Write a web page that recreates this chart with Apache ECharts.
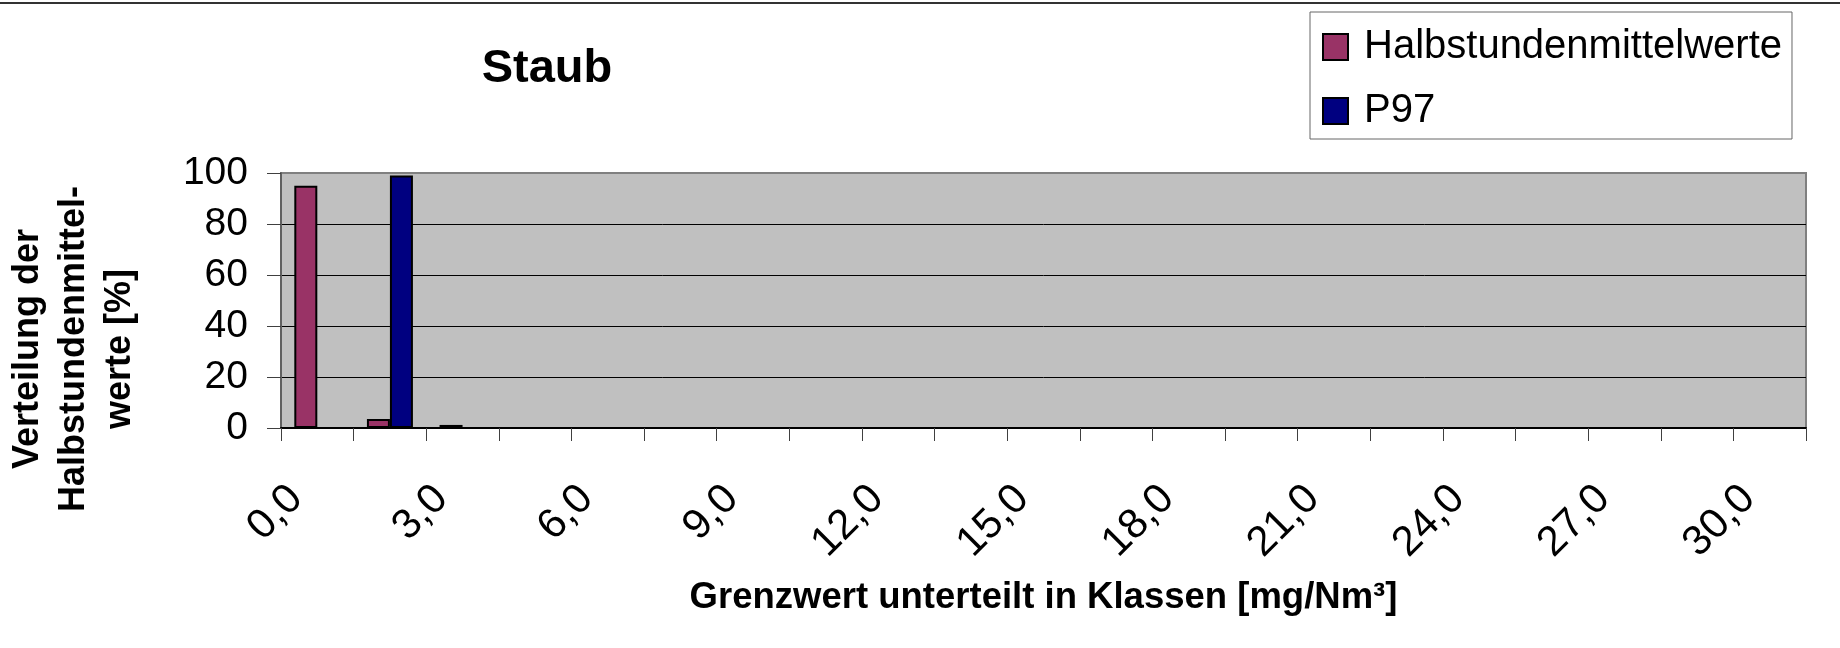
<!DOCTYPE html>
<html>
<head>
<meta charset="utf-8">
<script src="https://cdn.jsdelivr.net/npm/echarts@6/dist/echarts.min.js"></script>
<style>
  html, body { margin: 0; padding: 0; background: #fff; }
  #chart { width: 1840px; height: 648px; }
</style>
</head>
<body>
<div id="chart"></div>
<script>
// Klassen in 1,5er Schritten (0,0 ... 30,0)
const classes = ['0,0', '1,5', '3,0', '4,5', '6,0', '7,5', '9,0', '10,5', '12,0', '13,5', '15,0',
  '16,5', '18,0', '19,5', '21,0', '22,5', '24,0', '25,5', '27,0', '28,5', '30,0']
// Verteilung in %
const halbstunden = [95, 3.5, 1.2, 0, 0, 0, 0, 0, 0, 0, 0, 0, 0, 0, 0, 0, 0, 0, 0, 0, 0]
const p97 = [0, 99, 0, 0, 0, 0, 0, 0, 0, 0, 0, 0, 0, 0, 0, 0, 0, 0, 0, 0, 0]

const font = 'Liberation Sans, Arial, Helvetica, sans-serif'
const chart = echarts.init(document.getElementById('chart'))

chart.setOption({
  backgroundColor: '#fff',
  animation: false,
  title: {
    text: 'Staub',
    left: 542,
    top: 38,
    textAlign: 'center',
    textStyle: { fontFamily: font, fontSize: 47, fontWeight: 'bold', color: '#000', lineHeight: 52 }
  },
  legend: {
    orient: 'vertical',
    left: 1310,
    top: 12,
    padding: [13, 10, 6, 12],
    itemGap: 20,
    itemWidth: 25,
    itemHeight: 26,
    icon: 'rect',
    borderColor: '#666',
    borderWidth: 1,
    backgroundColor: '#fff',
    itemStyle: { borderColor: '#000', borderWidth: 2 },
    textStyle: { fontFamily: font, fontSize: 40, color: '#000', lineHeight: 44, padding: [0, 0, 0, 11] },
    data: ['Halbstundenmittelwerte', 'P97']
  },
  grid: {
    left: 281,
    right: 34,
    top: 173,
    bottom: 220,
    show: true,
    backgroundColor: '#c0c0c0',
    borderColor: '#808080',
    borderWidth: 2
  },
  graphic: [
    {
      type: 'line',
      shape: { x1: 0, y1: 3, x2: 1840, y2: 3 },
      style: { stroke: '#333', lineWidth: 2 }
    },
    {
      // Achsentitel der y-Achse (dreizeilig, zentriert)
      type: 'text',
      x: 74,
      y: 349,
      rotation: Math.PI / 2,
      style: {
        text: 'Verteilung der\nHalbstundenmittel-\nwerte [%]',
        fontFamily: font,
        fontSize: 36,
        fontWeight: 'bold',
        lineHeight: 46,
        fill: '#000',
        align: 'center',
        verticalAlign: 'middle'
      }
    }
  ],
  xAxis: {
    type: 'category',
    data: classes,
    boundaryGap: true,
    name: 'Grenzwert unterteilt in Klassen [mg/Nm³]',
    nameLocation: 'middle',
    nameGap: 151,
    nameTextStyle: { fontFamily: font, fontSize: 36.5, fontWeight: 'bold', color: '#000' },
    axisLine: { lineStyle: { color: '#000', width: 2 } },
    axisTick: { show: true, interval: 0, length: 13, lineStyle: { color: '#404040', width: 1 } },
    axisLabel: {
      interval: 1,
      rotate: 45,
      margin: 43,
      padding: [0, 30, 0, 0],
      fontFamily: font,
      fontSize: 42,
      color: '#000'
    },
    splitLine: { show: false }
  },
  yAxis: {
    type: 'value',
    min: 0,
    max: 100,
    interval: 20,
    axisLine: { show: true, lineStyle: { color: '#606060', width: 2 } },
    axisTick: { show: true, length: 14, lineStyle: { color: '#404040', width: 1 } },
    axisLabel: { margin: 33, fontFamily: font, fontSize: 39, color: '#000' },
    splitLine: { lineStyle: { color: ['#000', '#000', '#000', '#000', '#000', '#808080'], width: 1 } }
  },
  series: [
    {
      name: 'Halbstundenmittelwerte',
      type: 'bar',
      data: halbstunden,
      barWidth: 23,
      barGap: '0%',
      itemStyle: { color: '#993366', borderColor: '#000', borderWidth: 2 }
    },
    {
      name: 'P97',
      type: 'bar',
      data: p97,
      barWidth: 23,
      barGap: '0%',
      itemStyle: { color: '#000080', borderColor: '#000', borderWidth: 2 }
    }
  ]
})
</script>
</body>
</html>
